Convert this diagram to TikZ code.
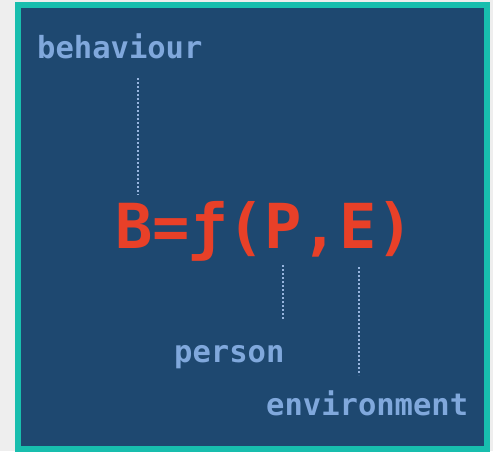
\documentclass[tikz,border=0pt]{standalone}
\usepackage{fontspec}
\setmonofont{DejaVu Sans Mono}
\definecolor{pagegray}{RGB}{238,238,238}
\definecolor{frameteal}{RGB}{24,190,174}
\definecolor{boardblue}{RGB}{30,72,112}
\definecolor{labelblue}{RGB}{128,168,220}
\definecolor{formred}{RGB}{232,64,40}
\definecolor{dotblue}{RGB}{150,180,222}
\tikzset{
  lbl/.style={anchor=base west,inner sep=0pt,text=labelblue,font=\ttfamily\bfseries\fontsize{30.5}{30.5}\selectfont},
  dotline/.style={dotblue,line width=2.6pt,dash pattern=on 1.8pt off 2.2pt}
}
\begin{document}
\begin{tikzpicture}[x=1pt,y=-1pt]
    \useasboundingbox (0,0) rectangle (493,451);
    \fill[pagegray] (0,0) rectangle (493,451);
    \fill[boardblue] (18,5) rectangle (487,449);
    \draw[frameteal,line width=6pt] (18,5) rectangle (487,449);
    \node[lbl] (beh) at (37,58) {behaviour};
    \node[anchor=base west,inner sep=0pt,text=formred,font=\ttfamily\bfseries\fontsize{62}{62}\selectfont] (form) at (115,248) {B=ƒ(P,E)};
    \node[lbl] (per) at (174,362) {person};
    \node[lbl] (env) at (266,415) {environment};
    \draw[dotline] ([xshift=101pt,yshift=-20pt]beh.base west) -- ([xshift=23pt,yshift=53pt]form.base west);
    \draw[dotline] ([xshift=168pt,yshift=-17pt]form.base west) -- ([xshift=109pt,yshift=42pt]per.base west);
    \draw[dotline] ([xshift=244pt,yshift=-19pt]form.base west) -- ([xshift=93pt,yshift=40pt]env.base west);
\end{tikzpicture}
\end{document}
